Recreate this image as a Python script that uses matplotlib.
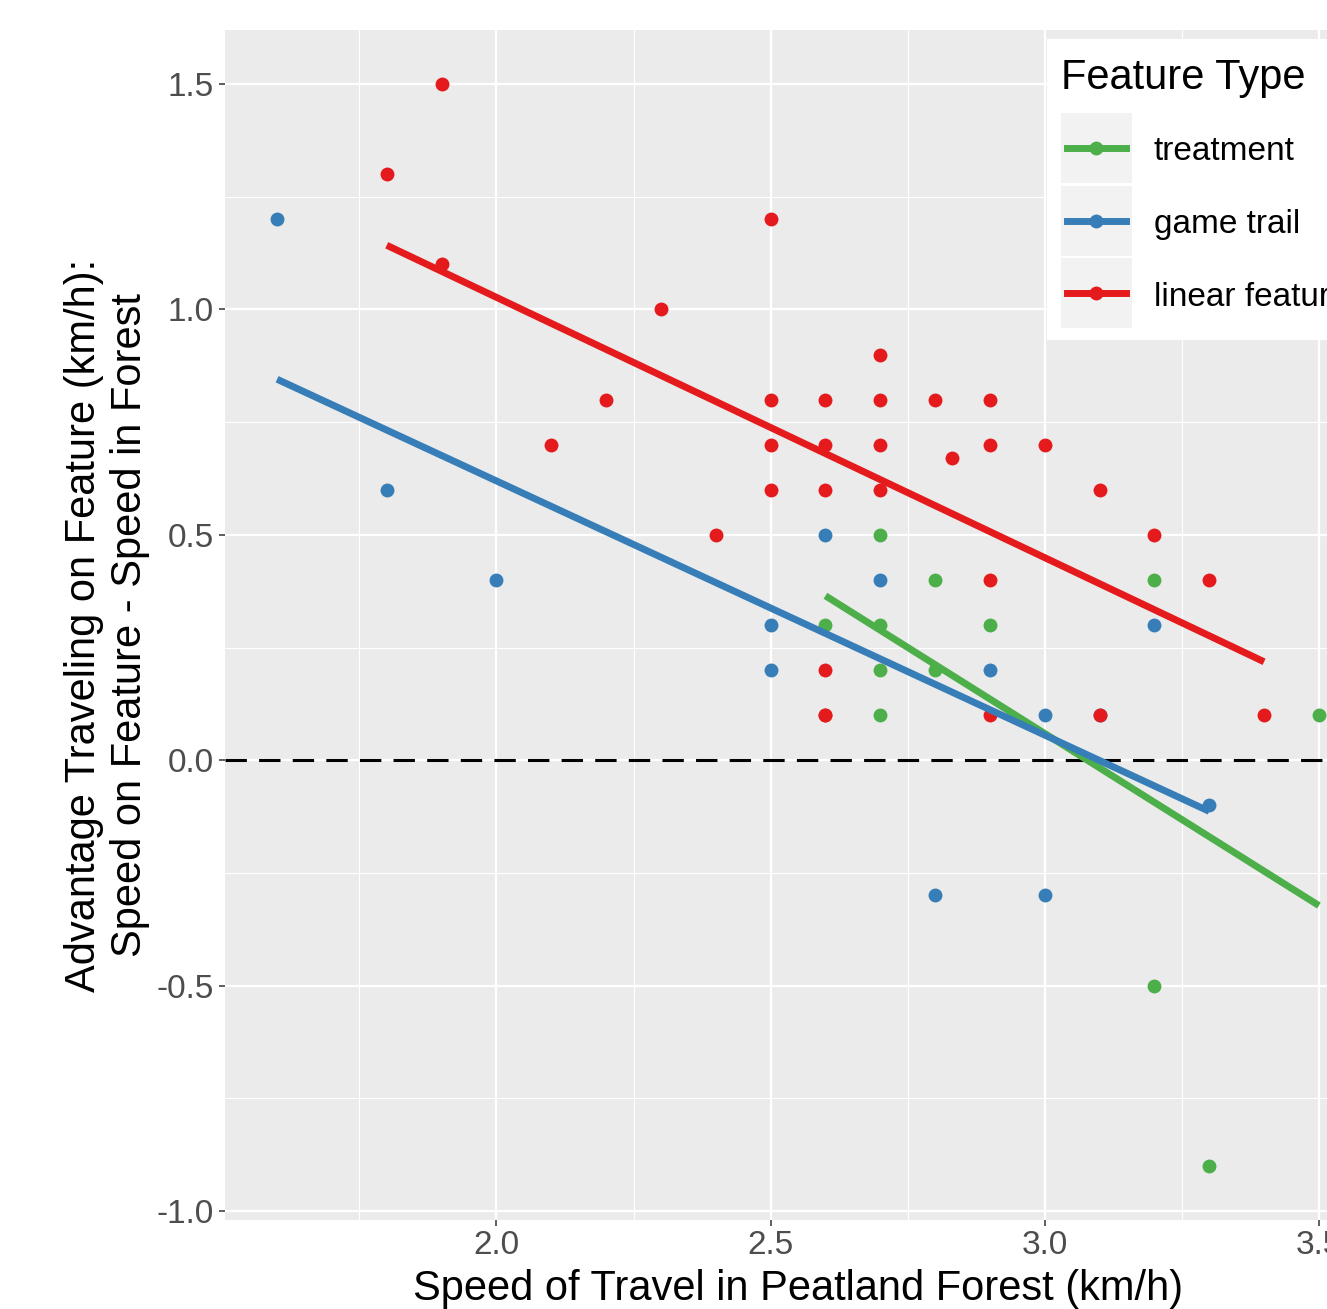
import numpy as np
import matplotlib
matplotlib.use("Agg")
import matplotlib.pyplot as plt
from matplotlib.patches import Rectangle
from matplotlib.lines import Line2D

plt.rcParams['font.family'] = ['Liberation Sans', 'DejaVu Sans']

# ---- data (a few coincide and overlap) ----
linear_x = [1.8, 1.9, 1.9, 2.1, 2.2, 2.3, 2.4, 2.5, 2.5, 2.5, 2.5, 2.6, 2.6, 2.6, 2.6, 2.6, 2.6,
            2.7, 2.7, 2.7, 2.7, 2.8, 2.83, 2.9, 2.9, 2.9, 2.9, 3.0, 3.1, 3.1, 3.2, 3.3, 3.4]
linear_y = [1.3, 1.5, 1.1, 0.7, 0.8, 1.0, 0.5, 1.2, 0.8, 0.7, 0.6, 0.8, 0.7, 0.6, 0.2, 0.1, 0.1,
            0.9, 0.8, 0.7, 0.6, 0.8, 0.67, 0.8, 0.7, 0.4, 0.1, 0.7, 0.6, 0.1, 0.5, 0.4, 0.1]
trail_x = [1.6, 1.8, 2.0, 2.5, 2.5, 2.6, 2.7, 2.8, 2.9, 3.0, 3.0, 3.1, 3.2, 3.3]
trail_y = [1.2, 0.6, 0.4, 0.3, 0.2, 0.5, 0.4, -0.3, 0.2, 0.1, -0.3, 0.1, 0.3, -0.1]
treat_x = [2.6, 2.7, 2.7, 2.7, 2.7, 2.8, 2.8, 2.9, 3.2, 3.2, 3.3, 3.5]
treat_y = [0.3, 0.5, 0.3, 0.2, 0.1, 0.4, 0.2, 0.3, 0.4, -0.5, -0.9, 0.1]

groups = ["treatment", "game trail", "linear feature"]
colors = {"treatment": "#4DAF4A", "game trail": "#377EB8", "linear feature": "#E41A1C"}
data = {"treatment": (treat_x, treat_y), "game trail": (trail_x, trail_y),
        "linear feature": (linear_x, linear_y)}
draw_order = ["game trail", "treatment", "linear feature"]

x_ticks = [2.0, 2.5, 3.0, 3.5]
y_ticks = [-1.0, -0.5, 0.0, 0.5, 1.0, 1.5]

W, H = 1327, 1309
fig = plt.figure(figsize=(W / 100, H / 100), dpi=100)
left, right, top, bottom = 225, 1371, 30, 1220
ax = fig.add_axes([left / W, 1 - bottom / H, (right - left) / W, (bottom - top) / H])
ax.set_facecolor("#EBEBEB")
for s in ax.spines.values():
    s.set_visible(False)

allx = linear_x + trail_x + treat_x
ally = linear_y + trail_y + treat_y
xr = max(allx) - min(allx)
yr = max(ally) - min(ally)
ax.set_xlim(min(allx) - 0.05 * xr, max(allx) + 0.05 * xr)
ax.set_ylim(min(ally) - 0.05 * yr, max(ally) + 0.05 * yr)

ax.set_xticks(x_ticks)
ax.set_xticklabels([f"{v:.1f}" for v in x_ticks])
ax.set_yticks(y_ticks)
ax.set_yticklabels([f"{v:.1f}" for v in y_ticks])
ax.set_xticks([1.75, 2.25, 2.75, 3.25], minor=True)
ax.set_yticks([-0.75, -0.25, 0.25, 0.75, 1.25], minor=True)
ax.grid(True, which="major", color="white", linewidth=1.6)
ax.grid(True, which="minor", color="white", linewidth=0.8)
ax.set_axisbelow(True)
ax.tick_params(which="major", length=4.3, width=1.1, color="#333333",
               labelsize=24, labelcolor="#4D4D4D")
ax.tick_params(axis="x", which="major", pad=3)
ax.tick_params(axis="y", which="major", pad=3.6)
ax.tick_params(which="minor", length=0)

ax.axhline(0, color="black", linestyle=(0, (7, 4)), linewidth=2.2, zorder=2)

for g in draw_order:
    xs, ys = data[g]
    ax.scatter(xs, ys, s=100, color=colors[g], zorder=3, linewidths=0)
for g in groups:
    xs, ys = data[g]
    xs = np.array(xs); ys = np.array(ys)
    b, a = np.polyfit(xs, ys, 1)
    xx = np.array([xs.min(), xs.max()])
    ax.plot(xx, a + b * xx, color=colors[g], linewidth=5, zorder=4, solid_capstyle="butt")

ax.set_xlabel("Speed of Travel in Peatland Forest (km/h)", fontsize=30, labelpad=6)
ax.set_ylabel("Advantage Traveling on Feature (km/h):\nSpeed on Feature - Speed in Forest",
              fontsize=30, labelpad=5, linespacing=1.2)

# ---- legend drawn manually in pixel coords ----
def px(x, y):
    return (x / W, 1 - y / H)

tf = fig.transFigure
lx0, ly0, lx1, ly1 = 1047, 39, 1400, 340
fig.patches.append(Rectangle(px(lx0, ly1), (lx1 - lx0) / W, (ly1 - ly0) / H,
                             transform=tf, facecolor="white", edgecolor="none", zorder=5))
fig.text(*px(1061, 78), "Feature Type", fontsize=30, va="center", ha="left", zorder=6)
key_tops = [113, 186, 258]
for g, kt in zip(groups, key_tops):
    fig.patches.append(Rectangle(px(1061, kt + 70), 71 / W, 70 / H, transform=tf,
                                 facecolor="#F2F2F2", edgecolor="none", zorder=6))
    cy = kt + 35
    fig.lines.append(Line2D([1067 / W, 1126 / W], [1 - cy / H, 1 - cy / H], transform=tf,
                            color=colors[g], linewidth=5, zorder=7))
    fig.lines.append(Line2D([1096 / W], [1 - cy / H], transform=tf, marker="o",
                            markersize=10, color=colors[g], markeredgewidth=0, zorder=8))
    fig.text(*px(1154, cy + 4), g, fontsize=24, va="center", ha="left", zorder=7)

fig.savefig("out.png", dpi=100, facecolor="white")
